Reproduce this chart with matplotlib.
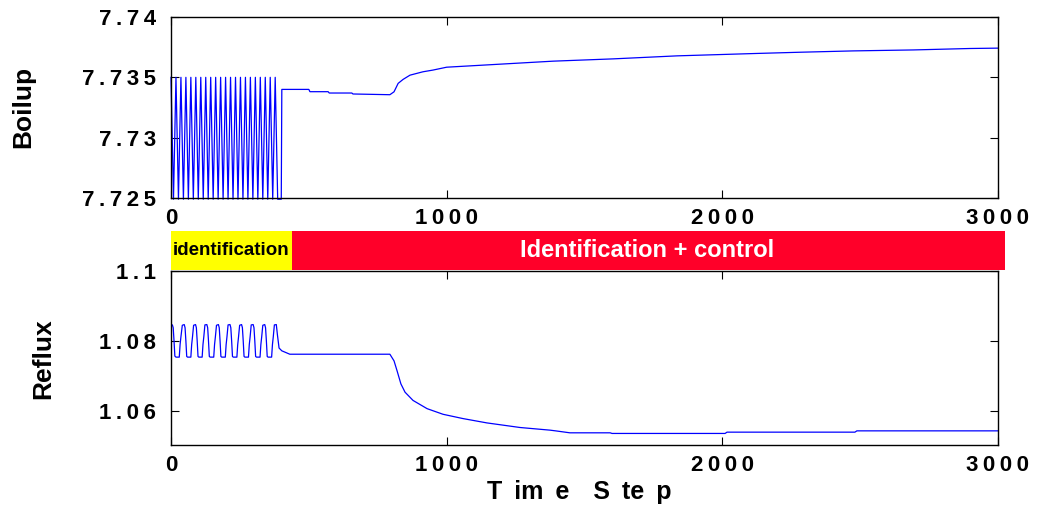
import numpy as np
import matplotlib
matplotlib.use('Agg')
import matplotlib.pyplot as plt
from matplotlib.patches import Rectangle

plt.rcParams['font.family'] = ['Liberation Sans', 'DejaVu Sans']
plt.rcParams['font.weight'] = 'bold'

# boilup, identification phase (relay-type switching, low side runs off the axis)
boil_id_t = [0, 9, 18, 27, 36, 45, 54, 63, 72, 81, 90, 99, 108, 117, 126, 135,
             144, 153, 162, 171, 180, 189, 198, 207, 216, 225, 234, 243, 252,
             261, 270, 279, 288, 297, 306, 315, 324, 333, 342, 351, 360, 369,
             378, 387, 396]
boil_id_v = [7.735, 7.7249, 7.735, 7.7249, 7.735, 7.7249, 7.735, 7.7249, 7.735,
             7.7249, 7.735, 7.7249, 7.735, 7.7249, 7.735, 7.7249, 7.735, 7.7249,
             7.735, 7.7249, 7.735, 7.7249, 7.735, 7.7249, 7.735, 7.7249, 7.735,
             7.7249, 7.735, 7.7249, 7.735, 7.7249, 7.735, 7.7249, 7.735, 7.7249,
             7.735, 7.7249, 7.735, 7.7249, 7.735, 7.7249, 7.735, 7.7249, 7.7249]
# boilup, identification + control
boil_t = [400, 402, 500, 504, 570, 574, 656, 660, 794, 809, 824, 842, 867, 914,
          950, 1000, 1193, 1386, 1604, 1836, 2126, 2282, 2474, 2692, 2899, 3000]
boil_v = [7.7249, 7.7340, 7.7340, 7.73381, 7.73381, 7.7337, 7.7337, 7.73362,
          7.73356, 7.7338, 7.7345, 7.73483, 7.73518, 7.73546, 7.7356, 7.73584,
          7.73609, 7.73634, 7.73653, 7.73678, 7.73698, 7.73708, 7.73719,
          7.73727, 7.73739, 7.73742]

# reflux, identification phase
reflux_id_t = [0, 5, 8, 11, 14, 18, 30, 33, 36,
               41, 48, 51, 54, 57, 60, 72, 75, 78,
               82, 89, 92, 95, 98, 101, 113, 116, 119,
               123, 130, 133, 136, 139, 142, 155, 158, 161,
               165, 172, 175, 178, 181, 184, 197, 200, 203,
               207, 214, 217, 220, 223, 226, 239, 242, 245,
               249, 256, 259, 262, 265, 268, 281, 284, 287,
               291, 298, 301, 304, 307, 310, 323, 326, 329,
               333, 340, 343, 346, 349, 352, 365, 368, 371,
               375, 382, 386, 392, 402, 431]
reflux_id_v = [1.0847, 1.0846, 1.0838, 1.0800, 1.0757, 1.0754, 1.0754, 1.0790, 1.0812,
               1.0845, 1.0847, 1.0838, 1.0800, 1.0756, 1.0754, 1.0754, 1.0790, 1.0812,
               1.0845, 1.0847, 1.0838, 1.0800, 1.0756, 1.0754, 1.0754, 1.0790, 1.0812,
               1.0846, 1.0847, 1.0838, 1.0800, 1.0756, 1.0754, 1.0754, 1.0790, 1.0812,
               1.0845, 1.0847, 1.0838, 1.0800, 1.0756, 1.0754, 1.0754, 1.0790, 1.0812,
               1.0846, 1.0847, 1.0838, 1.0800, 1.0756, 1.0754, 1.0754, 1.0790, 1.0812,
               1.0845, 1.0847, 1.0838, 1.0800, 1.0756, 1.0754, 1.0754, 1.0790, 1.0812,
               1.0846, 1.0847, 1.0838, 1.0800, 1.0756, 1.0754, 1.0754, 1.0790, 1.0812,
               1.0845, 1.0847, 1.0838, 1.0800, 1.0756, 1.0754, 1.0754, 1.0790, 1.0812,
               1.0846, 1.0847, 1.0818, 1.0780, 1.0772, 1.07623]
# reflux, identification + control
reflux_t = [431, 794, 809, 820, 834, 849, 878, 929, 987, 1059, 1146, 1266, 1375,
            1395, 1447, 1593, 1600, 2010, 2017, 2481, 2488, 3000]
reflux_v = [1.07623, 1.07623, 1.07434, 1.07151, 1.06775, 1.06538, 1.06303,
            1.06068, 1.05907, 1.05785, 1.05661, 1.0553, 1.05454, 1.05434,
            1.05378, 1.05378, 1.0536, 1.0536, 1.05397, 1.05397, 1.05434, 1.05434]

xticks = [0, 1000, 2000, 3000]
xticklabels = ['0', '1000', '2000', '3000']
boil_ticks = [7.725, 7.73, 7.735, 7.74]
boil_ticklabels = ['7.725', '7.73', '7.735', '7.74']
reflux_ticks = [1.06, 1.08, 1.1]
reflux_ticklabels = ['1.06', '1.08', '1.1']

def spaced(s):
    # the original renders its numbers letter-spaced
    return '\u2009'.join(s)

W, H = 1047, 509
fig = plt.figure(figsize=(W / 100, H / 100), dpi=100)

def px(x0, y0, x1, y1):
    return [x0 / W, 1 - y1 / H, (x1 - x0) / W, (y1 - y0) / H]

ax1 = fig.add_axes(px(171, 17, 998, 198))
ax2 = fig.add_axes(px(171, 271, 998, 445))

blue = '#0000ff'
ax1.plot(boil_id_t + boil_t, boil_id_v + boil_v, color=blue, lw=0.9, clip_on=False)
ax2.plot(reflux_id_t + reflux_t, reflux_id_v + reflux_v, color=blue, lw=0.9)

for ax in (ax1, ax2):
    ax.set_xlim(0, 3000)
    ax.set_xticks(xticks)
    ax.set_xticklabels([spaced(s) for s in xticklabels])
    ax.tick_params(direction='in', length=6, width=0.8, top=True, right=True,
                   labelsize=16, pad=7)
    ax.tick_params(axis='y', pad=11)
    for s in ax.spines.values():
        s.set_linewidth(1.0)

ax1.set_ylim(7.725, 7.74)
ax1.set_yticks(boil_ticks)
ax1.set_yticklabels([spaced(s) for s in boil_ticklabels])
ax2.set_ylim(1.0503, 1.1)
ax2.set_yticks(reflux_ticks)
ax2.set_yticklabels([spaced(s) for s in reflux_ticklabels])

ax1.set_ylabel('Boilup', fontsize=19, fontweight='bold')
ax1.yaxis.set_label_coords(-0.1645, 0.503)
ax2.set_ylabel('Reflux', fontsize=19, fontweight='bold')
ax2.yaxis.set_label_coords(-0.140, 0.494)
ax2.set_xlabel('T \u2009im \u2009e \u2009 \u2009S \u2009te \u2009p', fontsize=18,
               fontweight='bold')
ax2.xaxis.set_label_coords(0.494, -0.20)

# phase banner
y0, y1 = 1 - 270 / H, 1 - 231 / H
fig.add_artist(Rectangle((171 / W, y0), (292 - 171) / W, y1 - y0,
                         transform=fig.transFigure, color='#ffff00', lw=0))
fig.add_artist(Rectangle((292 / W, y0), (1005 - 292) / W, y1 - y0,
                         transform=fig.transFigure, color='#ff0029', lw=0))
fig.text(231.5 / W, (y0 + y1) / 2, 'identification', ha='center', va='center',
         fontsize=13.5, fontweight='bold', color='black')
fig.text(647 / W, (y0 + y1) / 2, 'Identification + control', ha='center',
         va='center', fontsize=17, fontweight='bold', color='white')

fig.savefig('out.png', dpi=100)
